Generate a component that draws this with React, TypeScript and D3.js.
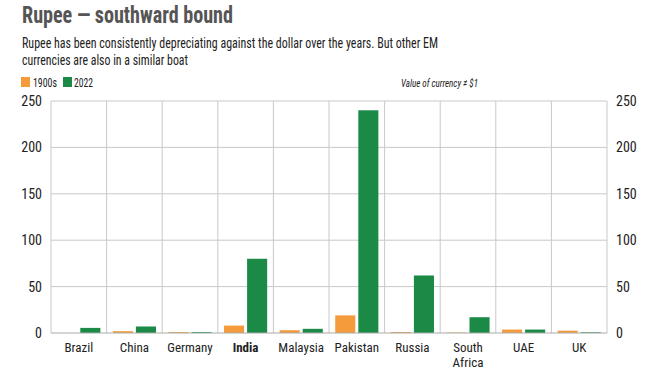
import React from "react";
import * as d3 from "d3";

const categories = ["Brazil", "China", "Germany", "India", "Malaysia", "Pakistan", "Russia", "South Africa", "UAE", "UK"];
const series1900s = [0, 2, 1, 8, 3, 19, 1, 0.5, 3.7, 2.5];
const series2022 = [5.5, 7, 1, 80, 4.5, 240, 62, 17, 3.7, 0.8];
const yTicks = [0, 50, 100, 150, 200, 250];
const seriesNames = ["1900s", "2022"];
const colors = ["#F59B3C", "#1B8A47"];

const W = 660, H = 374;
const M = { left: 51, right: 607, top: 101, bottom: 333 };
const FONT = "'Liberation Sans Narrow', 'Roboto Condensed', 'DejaVu Sans Condensed', Roboto, sans-serif";

export default function App() {
  const x = d3.scaleBand<string>().domain(categories).range([M.left, M.right]).paddingInner(0).paddingOuter(0);
  const x1 = d3.scaleBand<string>().domain(seriesNames).range([0, x.bandwidth()]).paddingInner(0.13).paddingOuter(0.27);
  const y = d3.scaleLinear().domain([0, 250]).range([M.bottom, M.top]);
  const data = [series1900s, series2022];
  const grid = "#c9c9c9";
  return (
    <svg width={W} height={H} style={{ position: "absolute", left: 0, top: 0, background: "#fff" }}>
      <rect width={W} height={H} fill="#fff" />
      <text x={22} y={23} fontFamily={FONT} fontWeight="bold" fontSize={23} fill="#555" textLength={211} lengthAdjust="spacingAndGlyphs">Rupee — southward bound</text>
      <text x={22} y={48} fontFamily={FONT} fontSize={14} fill="#222" textLength={416} lengthAdjust="spacingAndGlyphs">Rupee has been consistently depreciating against the dollar over the years. But other EM</text>
      <text x={22} y={65} fontFamily={FONT} fontSize={14} fill="#222" textLength={166} lengthAdjust="spacingAndGlyphs">currencies are also in a similar boat</text>
      {seriesNames.map((s, i) => (
        <g key={s}>
          <rect x={i === 0 ? 21 : 63} y={77} width={9} height={10} fill={colors[i]} />
          <text x={i === 0 ? 33 : 74} y={87} fontFamily={FONT} fontSize={13.5} fill="#222" textLength={i === 0 ? 24 : 19} lengthAdjust="spacingAndGlyphs">{s}</text>
        </g>
      ))}
      <text x={478} y={87} textAnchor="end" fontFamily={FONT} fontStyle="italic" fontSize={11.5} fill="#222" textLength={77} lengthAdjust="spacingAndGlyphs">Value of currency ≠ $1</text>
      {yTicks.map((t) => (
        <g key={t}>
          {t > 0 && <line x1={M.left} x2={M.right} y1={y(t)} y2={y(t)} stroke={grid} strokeWidth={1} />}
          <text x={42} y={y(t) + 5} textAnchor="end" fontFamily={FONT} fontSize={14} fill="#222">{t}</text>
          <text x={616} y={y(t) + 5} textAnchor="start" fontFamily={FONT} fontSize={14} fill="#222">{t}</text>
        </g>
      ))}
      {categories.map((c) => (
        <line key={c} x1={x(c)!} x2={x(c)!} y1={M.top} y2={M.bottom} stroke={grid} strokeWidth={1} />
      ))}
      <line x1={M.right} x2={M.right} y1={M.top} y2={M.bottom} stroke={grid} strokeWidth={1} />
      {categories.map((c, i) => (
        <g key={c}>
          {data.map((arr, si) => {
            const v = arr[i];
            if (v <= 0) return null;
            const yy = y(v);
            return <rect key={si} x={x(c)! + x1(seriesNames[si])!} y={yy} width={x1.bandwidth()} height={M.bottom - yy} fill={colors[si]} />;
          })}
        </g>
      ))}
      <line x1={M.left} x2={M.right} y1={M.bottom} y2={M.bottom} stroke="#aaa" strokeWidth={1} />
      {categories.map((c) => {
        const cx = x(c)! + x.bandwidth() / 2;
        const lines = c === "South Africa" ? ["South", "Africa"] : [c];
        return (
          <text key={c} x={cx} y={352} textAnchor="middle" fontFamily={FONT} fontSize={13} fontWeight={c === "India" ? "bold" : "normal"} fill="#222">
            {lines.map((l, k) => (
              <tspan key={k} x={cx} dy={k === 0 ? 0 : 15}>{l}</tspan>
            ))}
          </text>
        );
      })}
    </svg>
  );
}
